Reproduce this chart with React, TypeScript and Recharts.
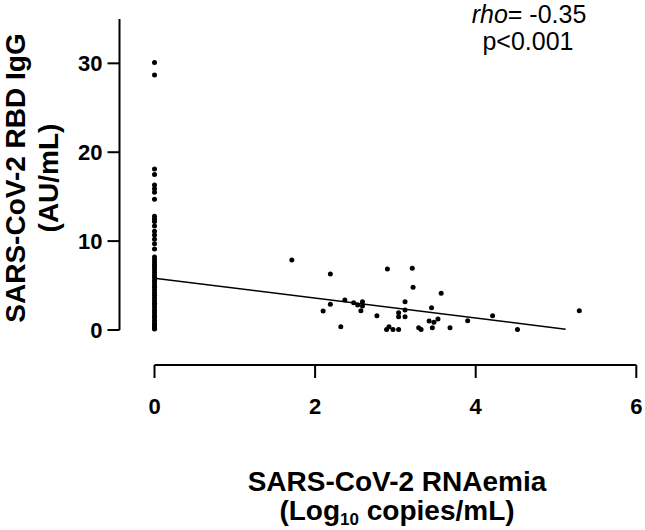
import { ScatterChart, Scatter, XAxis, YAxis, Label, Customized } from 'recharts';

// IgG values of the patients with undetectable RNAemia (plotted at x = 0)
const negativeIgG = [
  30.1, 28.7, 18.1, 17.5, 16.3, 15.9, 15.5, 14.7, 12.8, 12.5, 12.2, 11.7, 11.1, 10.7, 10.2, 9.7, 9.1,
  8.2, 7.9, 7.6, 7.3, 7.1, 6.8, 6.5, 6.2, 5.9, 5.6, 5.3, 5.0, 4.8, 4.5, 4.2, 3.9, 3.6, 3.3, 3.0, 2.8,
  2.5, 2.2, 1.9, 1.6, 1.4, 1.1, 0.8, 0.6, 0.4, 0.2, 0.1,
];

// patients with detectable RNAemia
const rnaemia = [
  1.71, 2.19, 2.1, 2.19, 2.32, 2.37, 2.48, 2.53, 2.59, 2.59, 2.57, 2.77, 2.9, 2.89, 2.92, 2.97, 3.04,
  3.04, 3.04, 3.12, 3.12, 3.12, 3.21, 3.22, 3.29, 3.32, 3.42, 3.45, 3.46, 3.48, 3.53, 3.57, 3.68, 3.9,
  4.21, 4.52, 5.29,
];
const positiveIgG = [
  7.87, 6.3, 2.14, 2.89, 0.37, 3.37, 3.07, 2.81, 3.18, 2.7, 2.17, 1.61, 6.86, 0.05, 0.37, 0.05, 0.05,
  1.95, 1.5, 3.18, 2.25, 1.5, 6.94, 4.8, 0.26, 0.05, 1.01, 2.51, 0.26, 0.87, 1.24, 4.13, 0.26, 1.05,
  1.61, 0.05, 2.17,
];

// regression line end points
const fitX = [0, 5.12];
const fitY = [5.82, 0.08];

const xTicks = [0, 2, 4, 6];
const yTicks = [0, 10, 20, 30];

// axes sit offset from the data area (Prism style)
const X_MIN = -0.436;
const Y_MIN = -3.94;

const FONT = '"Liberation Sans", Arial, sans-serif';

const points = [
  ...negativeIgG.map((y) => ({ x: 0, y })),
  ...rnaemia.map((x, i) => ({ x, y: positiveIgG[i] })),
];
const fit = fitX.map((x, i) => ({ x, y: fitY[i] }));

const Dot = (props: any) => <circle cx={props.cx} cy={props.cy} r={2.5} fill="#000" />;
const NoDot = () => <g />;

const XTitle = () => (
  <text textAnchor="middle" fontFamily={FONT} fontWeight="bold" fontSize={28} fill="#000">
    <tspan x={397} y={491}>SARS-CoV-2 RNAemia</tspan>
    <tspan x={397} y={520}>
      (Log<tspan fontSize={17} dy={5}>10</tspan>
      <tspan dy={-5}> copies/mL)</tspan>
    </tspan>
  </text>
);

const YTitle = () => (
  <g transform="translate(0,178) rotate(-90)">
    <text textAnchor="middle" fontFamily={FONT} fontWeight="bold" fontSize={28} fill="#000">
      <tspan x={0} y={25}>SARS-CoV-2 RBD IgG</tspan>
      <tspan x={0} y={58}>(AU/mL)</tspan>
    </text>
  </g>
);

const Annotation = () => (
  <text textAnchor="middle" fontFamily={FONT} fontSize={25} fill="#000">
    <tspan x={529} y={23}>
      <tspan fontStyle="italic">rho</tspan>= -0.35
    </tspan>
    <tspan x={528} y={50}>p&lt;0.001</tspan>
  </text>
);

const tickStyle = { fill: '#000', fontSize: 22, fontWeight: 'bold', fontFamily: FONT };
const tickStroke = { stroke: '#000', strokeWidth: 2 };

export default function App() {
  return (
    <div style={{ position: 'absolute', left: 0, top: 0, width: 645, height: 530, background: '#fff' }}>
      <ScatterChart width={645} height={530} margin={{ top: 18.9, right: 8.7, bottom: 105, left: 39.5 }}>
        <XAxis
          type="number"
          dataKey="x"
          domain={[X_MIN, 6]}
          ticks={xTicks}
          height={60}
          // the x axis line starts at 0, not at the y axis
          axisLine={{ stroke: '#000', strokeWidth: 2, strokeDasharray: '482 35', strokeDashoffset: 482 }}
          tickLine={tickStroke}
          tickSize={13}
          tickMargin={20}
          tick={tickStyle}
        >
          <Label content={XTitle} />
        </XAxis>
        <YAxis
          type="number"
          dataKey="y"
          domain={[Y_MIN, 35]}
          ticks={yTicks}
          width={80}
          // the y axis line stops at 0, above the x axis
          axisLine={{ stroke: '#000', strokeWidth: 2, strokeDasharray: '311.1 60' }}
          tickLine={tickStroke}
          tickSize={12}
          tickMargin={5}
          tick={tickStyle}
        >
          <Label content={YTitle} />
        </YAxis>
        <Scatter data={points} shape={Dot} isAnimationActive={false} />
        <Scatter
          data={fit}
          shape={NoDot}
          line={{ stroke: '#000', strokeWidth: 1.5 }}
          isAnimationActive={false}
        />
        <Customized component={Annotation} />
      </ScatterChart>
    </div>
  );
}
